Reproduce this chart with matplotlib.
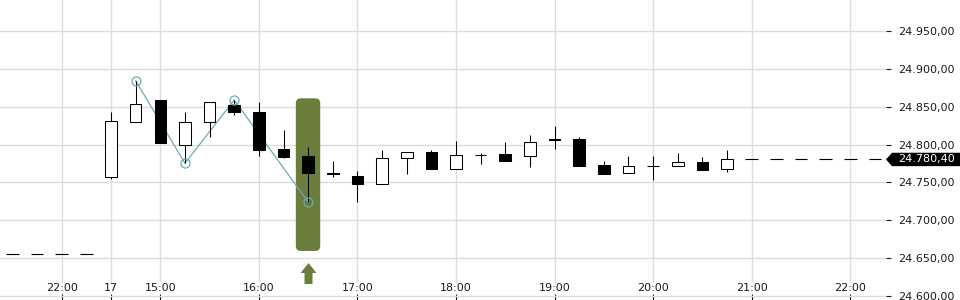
import matplotlib
matplotlib.use("Agg")
import matplotlib.pyplot as plt
from matplotlib.patches import FancyBboxPatch, Polygon
from matplotlib.path import Path
from matplotlib.ticker import FixedLocator, FuncFormatter

# candle slots (15 minute steps, 0 = 15:00)
slots = list(range(-2, 24))
opens = [24756.8, 24829.6, 24859.1, 24799.1, 24829.6, 24852.5, 24843.2, 24794.2,
         24785.0, 24762.0, 24758.5, 24747.5, 24781.9, 24790.3, 24768.2, 24786.8,
         24787.6, 24784.6, 24807.0, 24807.5, 24773.1, 24762.1, 24772.2, 24771.3,
         24776.6, 24768.2]
highs = [24843.2, 24884.6, 24859.1, 24843.2, 24856.0, 24859.1, 24856.4, 24819.4,
         24796.9, 24778.3, 24765.1, 24792.9, 24789.9, 24792.9, 24804.8, 24788.5,
         24803.5, 24812.8, 24824.7, 24810.1, 24778.3, 24785.4, 24784.6, 24788.9,
         24783.6, 24792.9]
lows = [24754.5, 24829.6, 24802.6, 24775.3, 24810.5, 24839.6, 24785.4, 24782.7,
        24724.1, 24757.6, 24724.5, 24747.5, 24761.5, 24768.2, 24768.2, 24774.8,
        24778.7, 24770.8, 24794.6, 24772.1, 24761.5, 24762.1, 24752.8, 24771.3,
        24766.8, 24764.2]
closes = [24830.9, 24853.4, 24802.6, 24829.6, 24856.0, 24843.6, 24793.3, 24784.0,
          24762.9, 24761.0, 24747.5, 24781.9, 24789.9, 24768.2, 24785.9, 24785.8,
          24778.7, 24803.1, 24806.0, 24772.1, 24761.5, 24771.3, 24771.2, 24776.6,
          24766.8, 24780.4]

# zigzag pivots: (candle index, which extreme)
pivots = [(1, "high"), (3, "low"), (5, "high"), (8, "low")]

prev_close = 24655.0
prev_close_slots = [-6, -5, -4, -3]
last_close_slots = [24, 25, 26, 27, 28, 29]

# highlighted signal candle
signal_idx = 8
signal_top = 24861.3
signal_bottom = 24659.3
signal_arrow_y = 24630.0

tick_slots = [-4, -2, 0, 4, 8, 12, 16, 20, 24, 28]
tick_labels = ["22:00", "17", "15:00", "16:00", "17:00", "18:00",
               "19:00", "20:00", "21:00", "22:00"]
price_ticks = [24600, 24650, 24700, 24750, 24800, 24850, 24900, 24950]

GRID = "#dcdcdc"
TEAL = "#6eaab5"
OLIVE = "#6b7d3a"
TXT = "#1a1a1a"


def de_fmt(v, _pos=None):
    s = f"{v:,.2f}"
    return s.replace(",", "X").replace(".", ",").replace("X", ".")


fig = plt.figure(figsize=(9.6, 3.0), dpi=100)
ax = fig.add_axes([0, 0, 886 / 960, 1.0])
ymin, ymax = 24594.4, 24991.4
ax.set_xlim(-6.505, 29.45)
ax.set_ylim(ymin, ymax)
for s in ax.spines.values():
    s.set_visible(False)

# grid
ax.yaxis.grid(True, color=GRID, lw=1.0, zorder=0)
ax.set_axisbelow(True)
for t in tick_slots:
    ax.axvline(t, ymin=0.06, ymax=1.0, color=GRID, lw=1.0, zorder=0)

# x ticks inside the plot, at the bottom
ax.set_xticks(tick_slots, tick_labels)
ax.tick_params(axis="x", direction="in", length=4, width=0.8, pad=-12.2,
               labelsize=8, colors=TXT)

# y ticks on the right
ax.yaxis.tick_right()
ax.yaxis.set_major_locator(FixedLocator(price_ticks))
ax.yaxis.set_major_formatter(FuncFormatter(de_fmt))
ax.tick_params(axis="y", direction="out", length=3.6, width=0.8, pad=5,
               labelsize=8, colors=TXT)

# signal highlight
px_per_price = 300 / (ymax - ymin)
sig_x = slots[signal_idx]
hl = FancyBboxPatch((sig_x - 0.5, signal_bottom), 0.99, signal_top - signal_bottom,
                    boxstyle="round,pad=0,rounding_size=0.2",
                    mutation_aspect=(5 / px_per_price) / 0.2,
                    fc=OLIVE, ec="none", zorder=1)
ax.add_patch(hl)

arrow = Path([(-4, -10.5), (4, -10.5), (4, 0.5), (8, 0.5), (0, 10.5),
              (-8, 0.5), (-4, 0.5), (-4, -10.5)])
ax.plot([sig_x], [signal_arrow_y], marker=arrow, markersize=15.1,
        color=OLIVE, mec="none", zorder=2)

# zigzag
zx = [slots[i] for i, _ in pivots]
zy = [highs[i] if k == "high" else lows[i] for i, k in pivots]
ax.plot(zx, zy, color=TEAL, lw=0.9, zorder=2)

# candles
ax.vlines(slots, lows, highs, color="black", lw=0.75, zorder=3)
for x, o, c in zip(slots, opens, closes):
    up = c >= o
    ax.bar(x, c - o, bottom=o, width=0.47,
           color="white" if up else "black", edgecolor="black",
           linewidth=0.75, zorder=4)

ax.plot(zx, zy, ls="none", marker="o", ms=6.5, mfc="none", mec=TEAL,
        mew=0.9, zorder=5)

# previous close and last close dashes
ax.hlines([prev_close] * len(prev_close_slots),
          [s - 0.26 for s in prev_close_slots], [s + 0.26 for s in prev_close_slots],
          color="black", lw=0.8, zorder=2)
last = closes[-1]
ax.hlines([last] * len(last_close_slots),
          [s - 0.26 for s in last_close_slots], [s + 0.26 for s in last_close_slots],
          color="black", lw=0.8, zorder=2)

# last price tag
w = 886
h = 6.7 / px_per_price
tag = Polygon([(1.0, last), (1 + 6 / w, last + h), (1 + 80 / w, last + h),
               (1 + 80 / w, last - h), (1 + 6 / w, last - h)],
              closed=True, transform=ax.get_yaxis_transform(),
              fc="black", ec="none", clip_on=False, zorder=6)
ax.add_patch(tag)
ax.text(1 + 12.5 / w, last, de_fmt(last), transform=ax.get_yaxis_transform(),
        color="white", fontsize=8, va="center", ha="left", zorder=7, clip_on=False)

fig.savefig("out.png", dpi=100)
